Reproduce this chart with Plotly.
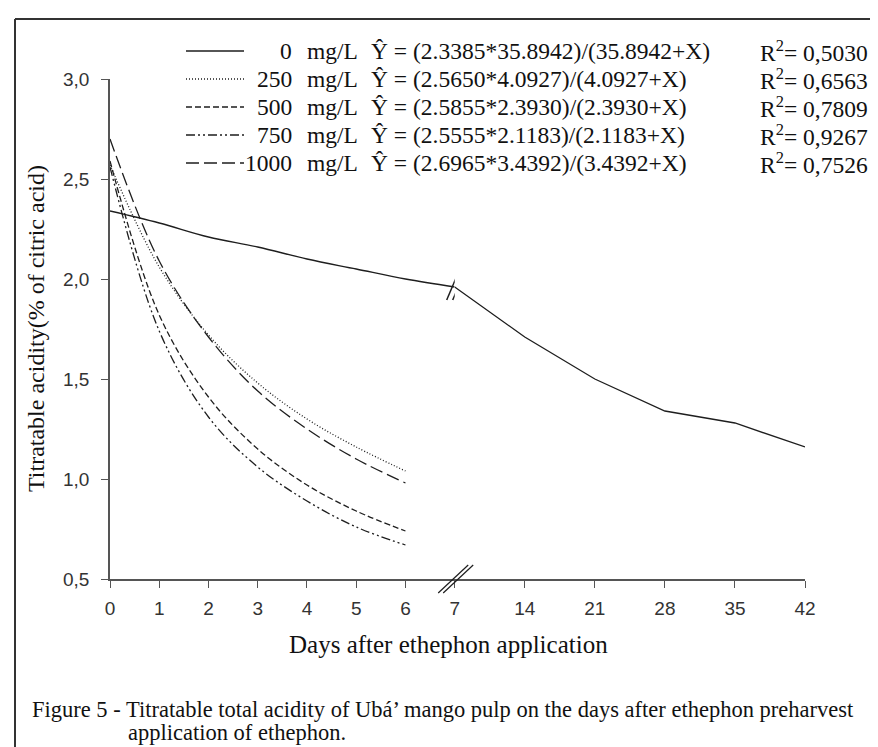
import plotly.graph_objects as go

# ---------------- data ----------------
days_short = [0, 1, 2, 3, 4, 5, 6]
days_0a = [0, 1, 2, 3, 4, 5, 6, 7]
days_0b = [7, 14, 21, 28, 35, 42]

y_0a = [2.34, 2.28, 2.21, 2.16, 2.10, 2.05, 2.00, 1.96]
y_0b = [1.96, 1.71, 1.50, 1.34, 1.28, 1.16]
y_250 = [2.57, 2.06, 1.72, 1.48, 1.30, 1.16, 1.04]
y_500 = [2.59, 1.82, 1.41, 1.15, 0.97, 0.84, 0.74]
y_750 = [2.56, 1.74, 1.31, 1.06, 0.89, 0.76, 0.67]
y_1000 = [2.70, 2.09, 1.71, 1.44, 1.25, 1.10, 0.98]

doses = ["0", "250", "500", "750", "1000"]
equations = [
    "Ŷ = (2.3385*35.8942)/(35.8942+X)",
    "Ŷ = (2.5650*4.0927)/(4.0927+X)",
    "Ŷ = (2.5855*2.3930)/(2.3930+X)",
    "Ŷ = (2.5555*2.1183)/(2.1183+X)",
    "Ŷ = (2.6965*3.4392)/(3.4392+X)",
]
r2_values = ["0,5030", "0,6563", "0,7809", "0,9267", "0,7526"]

ticks_a = [0, 1, 2, 3, 4, 5, 6, 7]
ticks_b = [14, 21, 28, 35, 42]
yticks = [0.5, 1.0, 1.5, 2.0, 2.5, 3.0]
yticktext = ["0,5", "1,0", "1,5", "2,0", "2,5", "3,0"]

# ---------------- layout geometry ----------------
W, H = 878, 747
L, R, T, B = 102, 81, 71, 176
PW = W - L - R
PH = H - T - B
XSPLIT = (446.7 - L) / PW


def px(x):
    return (x - L) / PW


def py(y):
    return (H - B - y) / PH


INK = "#1e1e1e"
AX = "#555555"
SERIF = "Liberation Serif, Times New Roman, serif"
SANS = "Liberation Sans, Arial, sans-serif"

dash_250 = "1px,2px"
dash_500 = "6px,3px"
dash_750 = "9px,3px,2px,3px,2px,3px"
dash_1000 = "13px,5px"
dashes = ["solid", dash_250, dash_500, dash_750, dash_1000]

fig = go.Figure()

lw = 1.3
fig.add_trace(go.Scatter(x=days_0a, y=y_0a, mode="lines", line=dict(color=INK, width=lw, shape="spline"),
                         xaxis="x", yaxis="y"))
fig.add_trace(go.Scatter(x=days_0b, y=y_0b, mode="lines", line=dict(color=INK, width=lw),
                         xaxis="x2", yaxis="y"))
for ys, d in [(y_250, dash_250), (y_500, dash_500), (y_750, dash_750), (y_1000, dash_1000)]:
    fig.add_trace(go.Scatter(x=days_short, y=ys, mode="lines",
                             line=dict(color=INK, width=lw, dash=d, shape="spline"),
                             xaxis="x", yaxis="y"))

axis_common = dict(showline=True, linecolor=AX, linewidth=1.5, ticks="outside", ticklen=7,
                   tickcolor=AX, tickwidth=1.3, showgrid=False, zeroline=False,
                   tickfont=dict(family=SANS, size=19, color="#333333"))

fig.update_layout(
    width=W, height=H, autosize=False,
    margin=dict(l=L, r=R, t=T, b=B),
    paper_bgcolor="white", plot_bgcolor="white",
    showlegend=False,
    xaxis=dict(domain=[0, XSPLIT], range=[0, 7], tickmode="array", tickvals=ticks_a,
               anchor="y", ticklabelstandoff=4, **axis_common),
    xaxis2=dict(domain=[XSPLIT, 1], range=[7, 42], tickmode="array", tickvals=ticks_b,
                anchor="y", ticklabelstandoff=4, **axis_common),
    yaxis=dict(range=[0.5, 3.0], tickmode="array", tickvals=yticks, ticktext=yticktext,
               anchor="x", ticklabelstandoff=8, **axis_common),
)

shapes = []
# figure frame (top and left edges)
shapes.append(dict(type="line", xref="paper", yref="paper", x0=px(7), x1=px(880), y0=py(11), y1=py(11),
                   line=dict(color="#333333", width=2)))
shapes.append(dict(type="line", xref="paper", yref="paper", x0=px(7), x1=px(7), y0=py(11), y1=py(750),
                   line=dict(color="#333333", width=2)))

# axis break marks at day 7 on the x axis (paper-anchored so they are not clipped)
for off in (-2.5, 2.5):
    shapes.append(dict(type="line", xref="paper", yref="paper", xsizemode="pixel", ysizemode="pixel",
                       xanchor=XSPLIT, yanchor=0, x0=-14 + off, x1=16 + off, y0=-14, y1=14,
                       line=dict(color=INK, width=1.2)))
# break marks on the 0 mg/L curve
for off in (-3, 3):
    shapes.append(dict(type="line", xref="x", yref="y", xsizemode="pixel", ysizemode="pixel",
                       xanchor=7, yanchor=y_0a[-1], x0=-5 + off, x1=6 + off, y0=-13, y1=13,
                       line=dict(color=INK, width=1.5)))

# legend samples
row_y = [43, 71, 99, 127, 155]
for ry, d in zip(row_y, dashes):
    shapes.append(dict(type="line", xref="paper", yref="paper", x0=px(178), x1=px(236),
                       y0=py(ry), y1=py(ry), line=dict(color=INK, width=1.3, dash=d)))

fig.update_layout(shapes=shapes)

ann = []
tf = dict(family=SERIF, size=23.5, color="#111111")
for ry, dose, eq, r2 in zip(row_y, doses, equations, r2_values):
    ann.append(dict(xref="paper", yref="paper", x=px(286), y=py(ry), text=dose, showarrow=False,
                    xanchor="right", yanchor="middle", font=tf))
    ann.append(dict(xref="paper", yref="paper", x=px(297), y=py(ry), text="mg/L", showarrow=False,
                    xanchor="left", yanchor="middle", font=tf))
    ann.append(dict(xref="paper", yref="paper", x=px(361), y=py(ry), text=eq, showarrow=False,
                    xanchor="left", yanchor="middle", font=tf))
    ann.append(dict(xref="paper", yref="paper", x=px(750), y=py(ry), text="R<sup>2</sup>= " + r2,
                    showarrow=False, xanchor="left", yanchor="middle", font=tf))

ann.append(dict(xref="paper", yref="paper", x=px(28), y=py(321), text="Titratable acidity(% of citric acid)",
                showarrow=False, textangle=-90, xanchor="center", yanchor="middle",
                font=dict(family=SERIF, size=24, color="#111111")))
ann.append(dict(xref="paper", yref="paper", x=px(440), y=py(636), text="Days after ethephon application",
                showarrow=False, xanchor="center", yanchor="middle",
                font=dict(family=SERIF, size=25, color="#111111")))
ann.append(dict(xref="paper", yref="paper", x=px(22), y=py(701),
                text="Figure 5 - Titratable total acidity of Ubá’ mango pulp on the days after ethephon preharvest",
                showarrow=False, xanchor="left", yanchor="middle",
                font=dict(family=SERIF, size=22.5, color="#111111")))
ann.append(dict(xref="paper", yref="paper", x=px(118), y=py(724), text="application of ethephon.",
                showarrow=False, xanchor="left", yanchor="middle",
                font=dict(family=SERIF, size=22.5, color="#111111")))
fig.update_layout(annotations=ann)

fig.write_html("out.html")
